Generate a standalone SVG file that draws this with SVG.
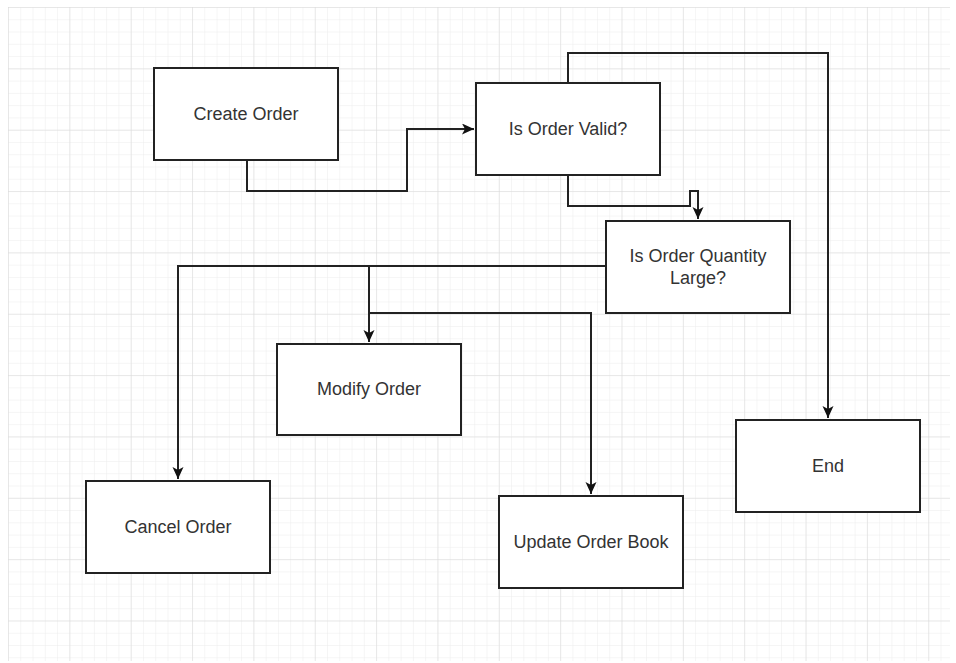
<svg xmlns="http://www.w3.org/2000/svg" width="956" height="663" viewBox="0 0 956 663">
<defs>
<pattern id="minor" x="8" y="7" width="12.27" height="12.27" patternUnits="userSpaceOnUse">
<path d="M0,0 H12.27 M0,0 V12.27" fill="none" stroke="#ececec" stroke-width="1"/>
</pattern>
<pattern id="major" x="8" y="7" width="61.35" height="61.35" patternUnits="userSpaceOnUse">
<path d="M0,0 H61.35 M0,0 V61.35" fill="none" stroke="#d9d9d9" stroke-width="1"/>
</pattern>
<marker id="arr" markerUnits="userSpaceOnUse" markerWidth="14" markerHeight="12" refX="12" refY="5.5" orient="auto">
<path d="M0,0 L12,5.5 L0,11 L3,5.5 z" fill="#111"/>
</marker>
<style>
.box{fill:#fff;stroke:#222;stroke-width:2}
.lbl{font-family:"Liberation Sans",Arial,sans-serif;font-size:18px;fill:#333;text-anchor:middle}
.edge{fill:none;stroke:#222;stroke-width:2}
</style>
</defs>
<rect x="0" y="0" width="956" height="663" fill="#fff"/>
<rect x="8" y="7" width="942" height="654" fill="url(#minor)"/>
<rect x="8" y="7" width="942" height="654" fill="url(#major)"/>
<g id="connectors">
<path class="edge" d="M247,160 V191 H407 V129 H474" marker-end="url(#arr)"/>
<path class="edge" d="M568,175 V206 H690 V191 H698 V219" marker-end="url(#arr)"/>
<path class="edge" d="M568,83 V53 H828 V418" marker-end="url(#arr)"/>
<path class="edge" d="M606,266 H178 V479" marker-end="url(#arr)"/>
<path class="edge" d="M369,266 V342" marker-end="url(#arr)"/>
<path class="edge" d="M369,313 H591 V494" marker-end="url(#arr)"/>
</g>
<g id="create-order"><rect class="box" x="154" y="68" width="184" height="92"/><text class="lbl" x="246" y="120">Create Order</text></g>
<g id="is-order-valid"><rect class="box" x="476" y="83" width="184" height="92"/><text class="lbl" x="568" y="135">Is Order Valid?</text></g>
<g id="is-order-quantity-large"><rect class="box" x="606" y="221" width="184" height="92"/><text class="lbl" x="698" y="262">Is Order Quantity</text><text class="lbl" x="698" y="284">Large?</text></g>
<g id="modify-order"><rect class="box" x="277" y="344" width="184" height="91"/><text class="lbl" x="369" y="395">Modify Order</text></g>
<g id="cancel-order"><rect class="box" x="86" y="481" width="184" height="92"/><text class="lbl" x="178" y="533">Cancel Order</text></g>
<g id="update-order-book"><rect class="box" x="499" y="496" width="184" height="92"/><text class="lbl" x="591" y="548">Update Order Book</text></g>
<g id="end"><rect class="box" x="736" y="420" width="184" height="92"/><text class="lbl" x="828" y="472">End</text></g>
</svg>
